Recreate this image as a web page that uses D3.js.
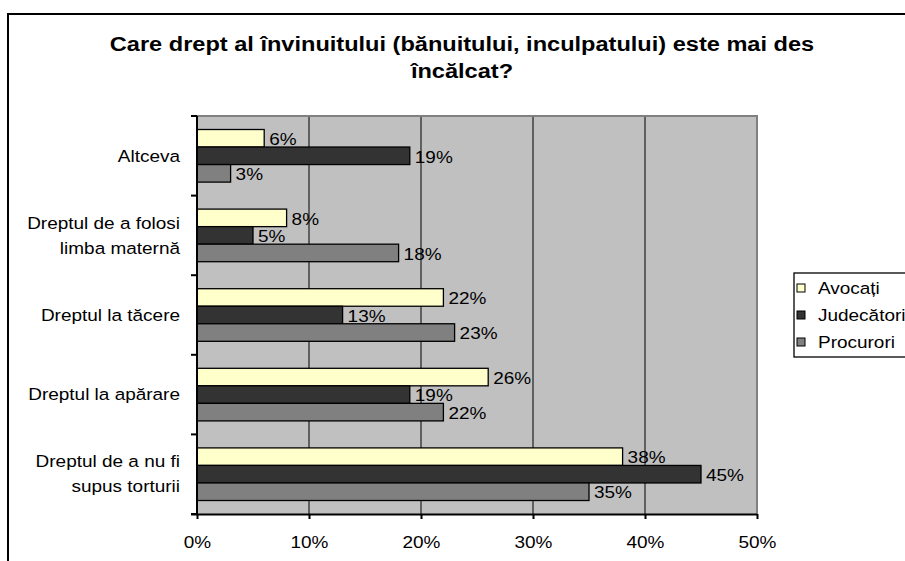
<!DOCTYPE html>
<html>
<head>
<meta charset="utf-8">
<script src="https://cdn.jsdelivr.net/npm/d3@7"></script>
<style>
  body { margin: 0; background: #fff; }
  text { font-family: "Liberation Sans", Arial, sans-serif; }
</style>
</head>
<body>
<script>
var W = 905, H = 561;
var SX = 1.15; // the original text is slightly wide

// categories top to bottom
var categories = ["Altceva", "Dreptul de a folosi limba maternă", "Dreptul la tăcere", "Dreptul la apărare", "Dreptul de a nu fi supus torturii"];
var series = ["Avocați", "Judecători", "Procurori"];
var avocati    = [6, 8, 22, 26, 38];
var judecatori = [19, 5, 13, 19, 45];
var procurori  = [3, 18, 23, 22, 35];
var xTicks = [0, 10, 20, 30, 40, 50];
var colors = ["#ffffcc", "#333333", "#808080"];

// category labels split over lines like the original
var catLines = {
  "Dreptul de a folosi limba maternă": ["Dreptul de a folosi", "limba maternă"],
  "Dreptul de a nu fi supus torturii": ["Dreptul de a nu fi", "supus torturii"]
};

var values = [avocati, judecatori, procurori];
var plot = {left: 197, top: 116, right: 757, bottom: 514};

// widen text around its anchor x
function stretch(sel) {
  sel.attr("transform", function(){
    var ax = +d3.select(this).attr("x") || 0;
    return "translate(" + ax + ",0) scale(" + SX + ",1) translate(" + (-ax) + ",0)";
  });
}

var svg = d3.select("body").append("svg")
    .attr("width", W)
    .attr("height", H);

// outer chart frame (cut off on right and bottom)
svg.append("path")
    .attr("d", "M8," + H + " V14 H" + W)
    .attr("fill", "none")
    .attr("stroke", "#000")
    .attr("stroke-width", 2);

// title
var title = svg.append("text")
    .attr("x", 462)
    .attr("y", 51)
    .attr("text-anchor", "middle")
    .attr("font-size", "20.5px")
    .attr("font-weight", "bold");
title.append("tspan").attr("x", 462).text("Care drept al învinuitului (bănuitului, inculpatului) este mai des");
title.append("tspan").attr("x", 462).attr("dy", 27).text("încălcat?");
title.call(stretch);

var x = d3.scaleLinear().domain([0, 50]).range([plot.left, plot.right]);
var y = d3.scaleBand().domain(categories).range([plot.top, plot.bottom]);
var yInner = d3.scaleBand().domain(series)
    .range([0, y.bandwidth()])
    .paddingOuter(0.77)
    .paddingInner(0);

// plot background
svg.append("rect")
    .attr("x", plot.left)
    .attr("y", plot.top)
    .attr("width", plot.right - plot.left)
    .attr("height", plot.bottom - plot.top)
    .attr("fill", "#c0c0c0");

// gridlines
svg.selectAll("line.grid")
    .data(xTicks.slice(1, -1))
    .enter()
    .append("line")
    .attr("class", "grid")
    .attr("x1", function(d){ return x(d); })
    .attr("x2", function(d){ return x(d); })
    .attr("y1", plot.top)
    .attr("y2", plot.bottom)
    .attr("stroke", "#000")
    .attr("stroke-width", 1);

// plot border top and right
svg.append("path")
    .attr("d", "M" + plot.left + "," + plot.top + " H" + plot.right + " V" + plot.bottom)
    .attr("fill", "none")
    .attr("stroke", "#808080")
    .attr("stroke-width", 2);

// bars
var rows = [];
categories.forEach(function(c, i){
  series.forEach(function(s, j){
    rows.push({cat: c, ser: s, v: values[j][i], color: colors[j]});
  });
});

svg.selectAll("rect.bar")
    .data(rows)
    .enter()
    .append("rect")
    .attr("class", "bar")
    .attr("x", x(0))
    .attr("y", function(d){ return y(d.cat) + yInner(d.ser); })
    .attr("width", function(d){ return x(d.v) - x(0); })
    .attr("height", yInner.bandwidth())
    .attr("fill", function(d){ return d.color; })
    .attr("stroke", "#000")
    .attr("stroke-width", 1.3);

svg.selectAll("text.lbl")
    .data(rows)
    .enter()
    .append("text")
    .attr("class", "lbl")
    .text(function(d){ return d.v + "%"; })
    .attr("x", function(d){ return x(d.v) + 5; })
    .attr("y", function(d){ return y(d.cat) + yInner(d.ser) + yInner.bandwidth() / 2 + 1; })
    .attr("dy", "0.35em")
    .attr("font-size", "16.5px")
    .call(stretch);

// x axis
var xAxis = d3.axisBottom(x)
    .tickValues(xTicks)
    .tickFormat(function(d){ return d + "%"; })
    .tickSize(5)
    .tickPadding(17);
var gx = svg.append("g")
    .attr("transform", "translate(0," + plot.bottom + ")")
    .call(xAxis);
gx.select(".domain").attr("d", "M" + (plot.left - 6) + ",0.5H" + plot.right).attr("stroke-width", 2);
gx.selectAll(".tick line").attr("stroke-width", 2);
gx.selectAll(".tick text")
    .attr("font-size", "16.5px")
    .attr("fill", "#000")
    .style("font-family", "'Liberation Sans', Arial, sans-serif")
    .attr("transform", "scale(" + SX + ",1)");

// y axis: ticks at band edges
var yEdges = categories.map(function(c){ return y(c); }).concat([plot.bottom]);
svg.append("line")
    .attr("x1", plot.left).attr("x2", plot.left)
    .attr("y1", plot.top).attr("y2", plot.bottom)
    .attr("stroke", "#000").attr("stroke-width", 2);
svg.selectAll("line.ytick")
    .data(yEdges)
    .enter()
    .append("line")
    .attr("class", "ytick")
    .attr("x1", plot.left - 6).attr("x2", plot.left)
    .attr("y1", function(d){ return d; }).attr("y2", function(d){ return d; })
    .attr("stroke", "#000").attr("stroke-width", 2);

var catText = svg.selectAll("text.cat")
    .data(categories)
    .enter()
    .append("text")
    .attr("class", "cat")
    .attr("x", 180)
    .attr("text-anchor", "end")
    .attr("font-size", "16.5px");
catText.each(function(c){
  var lines = catLines[c] || [c];
  var cy = y(c) + y.bandwidth() / 2;
  var t = d3.select(this);
  lines.forEach(function(l, k){
    t.append("tspan")
      .attr("x", 180)
      .attr("y", cy + (k - (lines.length - 1) / 2) * 25)
      .attr("dy", "0.35em")
      .text(l);
  });
});
catText.call(stretch);

// legend
var lg = svg.append("g");
lg.append("rect")
    .attr("x", 794).attr("y", 273)
    .attr("width", 120).attr("height", 84)
    .attr("fill", "#fff")
    .attr("stroke", "#000")
    .attr("stroke-width", 1.3);
var items = lg.selectAll("g.item")
    .data(series)
    .enter()
    .append("g")
    .attr("transform", function(d, i){ return "translate(797," + (288 + i * 27) + ")"; });
items.append("rect")
    .attr("x", 0).attr("y", -4)
    .attr("width", 8).attr("height", 8)
    .attr("fill", function(d, i){ return colors[i]; })
    .attr("stroke", "#000")
    .attr("stroke-width", 1);
items.append("text")
    .attr("x", 21)
    .attr("dy", "0.35em")
    .attr("font-size", "16.5px")
    .text(function(d){ return d; })
    .call(stretch);
</script>
</body>
</html>
